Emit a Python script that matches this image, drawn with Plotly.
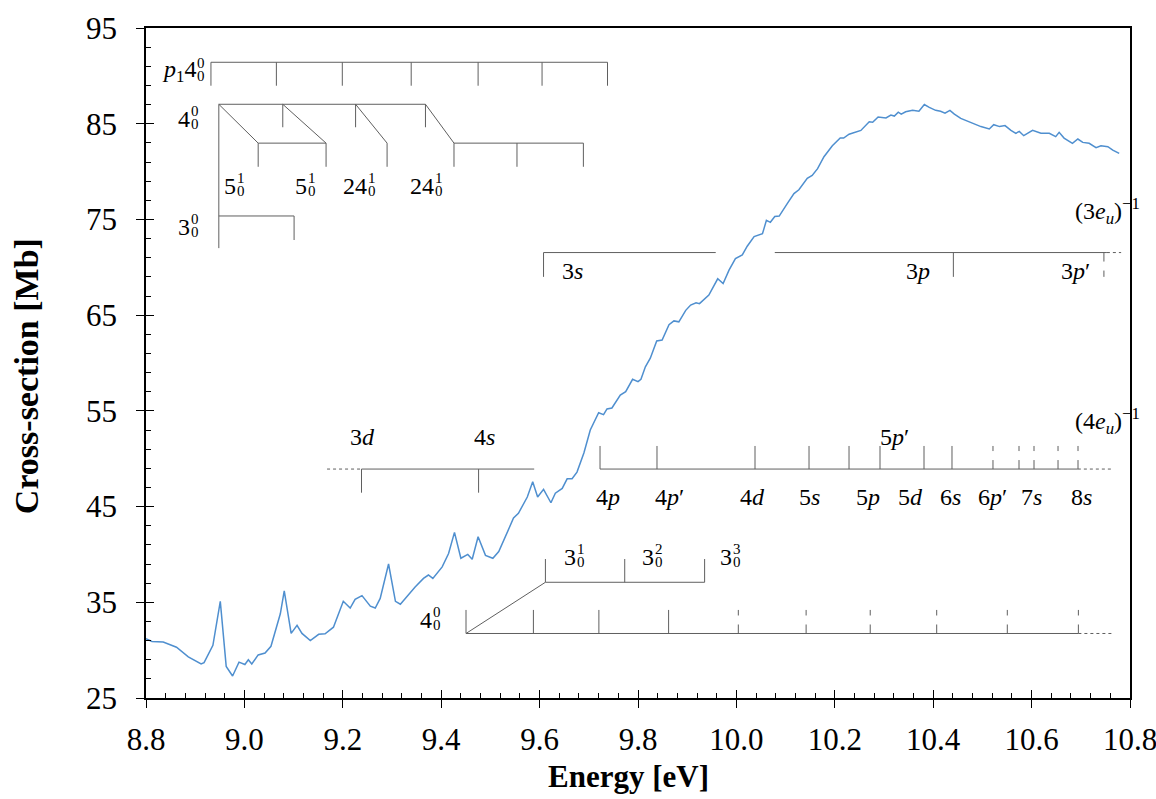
import plotly.graph_objects as go

# ---------------- data: measured cross-section ----------------
energy = [8.800, 8.812, 8.835, 8.862, 8.886, 8.912, 8.918, 8.936, 8.951, 8.963,
          8.976, 8.989, 9.001, 9.008, 9.015, 9.028, 9.042, 9.054, 9.073, 9.081,
          9.095, 9.107, 9.117, 9.134, 9.151, 9.164, 9.181, 9.201, 9.215, 9.225,
          9.239, 9.256, 9.266, 9.276, 9.293, 9.307, 9.317, 9.330, 9.347, 9.364,
          9.374, 9.383, 9.402, 9.415, 9.427, 9.440, 9.454, 9.463, 9.475, 9.490,
          9.505, 9.517, 9.530, 9.547, 9.557, 9.575, 9.586, 9.596, 9.608, 9.623,
          9.632, 9.646, 9.656, 9.666, 9.676, 9.690, 9.703, 9.720, 9.730, 9.737,
          9.747, 9.764, 9.775, 9.789, 9.800, 9.806, 9.815, 9.825, 9.838, 9.849,
          9.863, 9.873, 9.883, 9.897, 9.907, 9.918, 9.925, 9.944, 9.962, 9.973,
          9.985, 9.998, 10.012, 10.022, 10.036, 10.053, 10.061, 10.069, 10.078, 10.087,
          10.104, 10.117, 10.127, 10.144, 10.154, 10.165, 10.178, 10.195, 10.211, 10.218,
          10.229, 10.239, 10.253, 10.270, 10.277, 10.288, 10.304, 10.314, 10.321, 10.329,
          10.335, 10.344, 10.358, 10.371, 10.382, 10.392, 10.405, 10.415, 10.424, 10.434,
          10.443, 10.456, 10.476, 10.497, 10.514, 10.523, 10.535, 10.546, 10.558, 10.568,
          10.575, 10.584, 10.602, 10.619, 10.636, 10.649, 10.656, 10.666, 10.683, 10.694,
          10.704, 10.717, 10.731, 10.741, 10.755, 10.765, 10.778]
cross_section = [31.2, 30.9, 30.85, 30.3, 29.3, 28.55, 28.7, 30.5, 35.1, 28.3,
                 27.3, 28.75, 28.5, 29.0, 28.55, 29.5, 29.7, 30.4, 33.8, 36.2,
                 31.75, 32.6, 31.75, 31.0, 31.65, 31.7, 32.4, 35.1, 34.4, 35.3,
                 35.7, 34.6, 34.4, 35.4, 39.0, 35.1, 34.8, 35.6, 36.6, 37.5,
                 37.85, 37.5, 38.7, 40.1, 42.3, 39.6, 40.0, 39.5, 41.85, 39.9,
                 39.6, 40.3, 41.85, 43.8, 44.3, 46.0, 47.6, 46.0, 46.8, 45.4,
                 46.4, 46.9, 47.9, 47.9, 48.6, 50.6, 53.0, 54.8, 54.6, 55.2,
                 55.3, 56.65, 57.0, 58.3, 58.05, 58.3, 59.6, 60.5, 62.3, 62.4,
                 64.0, 64.4, 64.3, 65.5, 66.05, 66.3, 66.2, 67.1, 68.8, 68.3,
                 69.7, 70.9, 71.3, 72.2, 73.2, 73.5, 74.9, 74.7, 75.3, 75.35,
                 76.7, 77.7, 78.1, 79.3, 79.6, 80.3, 81.55, 82.7, 83.5, 83.5,
                 83.9, 84.1, 84.3, 85.2, 85.15, 85.7, 85.6, 85.9, 85.8, 86.2,
                 86.0, 86.25, 86.4, 86.3, 87.0, 86.7, 86.4, 86.3, 86.1, 86.4,
                 86.0, 85.55, 85.1, 84.7, 84.45, 84.9, 84.7, 84.8, 84.3, 84.0,
                 84.2, 83.75, 84.3, 84.0, 84.0, 83.65, 84.1, 83.5, 82.95, 83.4,
                 83.05, 82.95, 82.5, 82.7, 82.6, 82.25, 81.9]

x_ticks = [8.8, 9.0, 9.2, 9.4, 9.6, 9.8, 10.0, 10.2, 10.4, 10.6, 10.8]
x_tick_labels = ["8.8", "9.0", "9.2", "9.4", "9.6", "9.8", "10.0", "10.2", "10.4", "10.6", "10.8"]
y_ticks = [25, 35, 45, 55, 65, 75, 85, 95]
x_minor_step, y_minor_step = 0.04, 2

# ---------------- data: assignment ladders (eV / Mb) ----------------
p1_ticks = [8.932, 9.065, 9.199, 9.339, 9.475, 9.605, 9.738]
p1_level, p1_tick_end = 91.42, 88.97

v4_ticks = [8.948, 9.078, 9.226, 9.368]
v4_level, v4_tick_end, v4_stem_end = 87.03, 84.63, 72.0
v4_diag_ends = [9.028, 9.166, 9.290, 9.426]
combo_level, combo_tick_end = 82.97, 80.5
v5_ticks = [9.028, 9.166]
v24_single = [9.290]
v24_ticks = [9.426, 9.554, 9.689]
v3_level, v3_end, v3_tick_end = 75.36, 9.101, 72.85

ryd3_level, ryd3_tick_end = 71.54, 69.0
ryd3_left = [9.608, 9.958]
ryd3_right = [10.078, 10.753]
ryd3_dotted = [10.753, 10.782]
ryd3_solid_ticks = [9.608, 10.441]
ryd3_dashed_ticks = [10.747]

ryd4a_level, ryd4a_tick_end = 48.92, 46.45
ryd4a_dotted = [9.168, 9.238]
ryd4a_solid = [9.238, 9.589]
ryd4a_ticks = [9.238, 9.476]

ryd4b_level, ryd4b_tick_end = 48.92, 51.33
ryd4b_solid = [9.7228, 10.694]
ryd4b_dotted = [10.694, 10.765]
ryd4b_solid_ticks = [9.7228, 9.8386, 10.0378, 10.1476, 10.2289, 10.2919, 10.3813, 10.4382]
ryd4b_dashed_ticks = [10.5215, 10.5744, 10.6049, 10.6537, 10.6943]

low_level, low_tick_end = 31.74, 34.2
low_solid = [9.4504, 10.6951]
low_dotted = [10.6951, 10.765]
low_solid_ticks = [9.4504, 9.5874, 9.7205, 9.8622]
low_dashed_ticks = [10.0039, 10.1417, 10.2720, 10.4071, 10.5506, 10.6951]
low_diag_end = (9.6118, 37.09)
v3p_level, v3p_tick_end = 37.09, 39.52
v3p_ticks = [9.6118, 9.773, 9.9354]

# labels: (x, y, base, sup, sub)
script_labels = [
    (8.9037, 90.55, "<i>p</i><sub>1</sub>4", "0", "0"),
    (8.891, 85.5, "4", "0", "0"),
    (8.891, 74.2, "3", "0", "0"),
    (8.984, 78.5, "5", "1", "0"),
    (9.129, 78.5, "5", "1", "0"),
    (9.252, 78.5, "24", "1", "0"),
    (9.387, 78.5, "24", "1", "0"),
    (9.384, 33.2, "4", "0", "0"),
    (9.677, 39.7, "3", "1", "0"),
    (9.834, 39.7, "3", "2", "0"),
    (9.994, 39.7, "3", "3", "0"),
]
plain_labels = [
    (9.666, 69.65, "3<i>s</i>"),
    (10.369, 69.65, "3<i>p</i>"),
    (10.690, 69.65, "3<i>p</i>′"),
    (9.241, 52.27, "3<i>d</i>"),
    (9.487, 52.27, "4<i>s</i>"),
    (10.322, 52.27, "5<i>p</i>′"),
    (9.739, 46.0, "4<i>p</i>"),
    (9.865, 46.0, "4<i>p</i>′"),
    (10.032, 46.0, "4<i>d</i>"),
    (10.148, 46.0, "5<i>s</i>"),
    (10.268, 46.0, "5<i>p</i>"),
    (10.353, 46.0, "5<i>d</i>"),
    (10.436, 46.0, "6<i>s</i>"),
    (10.521, 46.0, "6<i>p</i>′"),
    (10.599, 46.0, "7<i>s</i>"),
    (10.702, 46.0, "8<i>s</i>"),
]
ion_labels = [
    (10.684, 75.9, "(3<i>e<sub>u</sub></i>)<sup>−1</sup>"),
    (10.684, 53.94, "(4<i>e<sub>u</sub></i>)<sup>−1</sup>"),
]

# ---------------- figure ----------------
LC = "#5f5f5f"
LABEL_FONT = dict(family="Liberation Serif", size=24, color="black")
SCRIPT_FONT = dict(family="Liberation Serif", size=15, color="black")

shapes = []


def seg(x0, y0, x1, y1, dash="solid"):
    shapes.append(dict(type="line", xref="x", yref="y", x0=x0, y0=y0, x1=x1, y1=y1,
                       line=dict(color=LC, width=1, dash=dash), layer="above"))


def hline(xs, y, dash="solid"):
    seg(xs[0], y, xs[1], y, dash)


def ticks(xs, y0, y1, dash="solid"):
    for t in xs:
        seg(t, y0, t, y1, dash)


# p1 4 progression
hline([p1_ticks[0], p1_ticks[-1]], p1_level)
ticks(p1_ticks, p1_level, p1_tick_end)
# 4 progression with combinations
hline([v4_ticks[0], v4_ticks[-1]], v4_level)
seg(v4_ticks[0], v4_level, v4_ticks[0], v4_stem_end)
ticks(v4_ticks[1:], v4_level, v4_tick_end)
for a, b in zip(v4_ticks, v4_diag_ends):
    seg(a, v4_level, b, combo_level)
hline(v5_ticks, combo_level)
ticks(v5_ticks, combo_level, combo_tick_end)
ticks(v24_single, combo_level, combo_tick_end)
hline([v24_ticks[0], v24_ticks[-1]], combo_level)
ticks(v24_ticks, combo_level, combo_tick_end)
hline([v4_ticks[0], v3_end], v3_level)
ticks([v3_end], v3_level, v3_tick_end)
# (3eu)^-1 Rydberg series
hline(ryd3_left, ryd3_level)
hline(ryd3_right, ryd3_level)
hline(ryd3_dotted, ryd3_level, "dot")
ticks(ryd3_solid_ticks, ryd3_level, ryd3_tick_end)
ticks(ryd3_dashed_ticks, ryd3_level, ryd3_tick_end, "dash")
# (4eu)^-1 Rydberg series
hline(ryd4a_dotted, ryd4a_level, "dot")
hline(ryd4a_solid, ryd4a_level)
ticks(ryd4a_ticks, ryd4a_level, ryd4a_tick_end)
hline(ryd4b_solid, ryd4b_level)
hline(ryd4b_dotted, ryd4b_level, "dot")
ticks(ryd4b_solid_ticks, ryd4b_level, ryd4b_tick_end)
ticks(ryd4b_dashed_ticks, ryd4b_level, ryd4b_tick_end, "dash")
# low-energy 4 progression and 3 combinations
hline(low_solid, low_level)
hline(low_dotted, low_level, "dot")
ticks(low_solid_ticks, low_level, low_tick_end)
ticks(low_dashed_ticks, low_level, low_tick_end, "dash")
seg(low_solid[0], low_level, low_diag_end[0], low_diag_end[1])
hline([v3p_ticks[0], v3p_ticks[-1]], v3p_level)
ticks(v3p_ticks, v3p_level, v3p_tick_end)

annotations = []
for x, y, base, sup, sub in script_labels:
    annotations.append(dict(x=x, y=y, xref="x", yref="y", text=base, showarrow=False,
                            xanchor="right", yanchor="middle", xshift=1, font=LABEL_FONT))
    annotations.append(dict(x=x, y=y, xref="x", yref="y", text=sup, showarrow=False,
                            xanchor="left", yanchor="middle", yshift=8, xshift=-2, font=SCRIPT_FONT))
    annotations.append(dict(x=x, y=y, xref="x", yref="y", text=sub, showarrow=False,
                            xanchor="left", yanchor="middle", yshift=-5, xshift=-2, font=SCRIPT_FONT))
for x, y, t in plain_labels:
    annotations.append(dict(x=x, y=y, xref="x", yref="y", text=t, showarrow=False,
                            xanchor="center", yanchor="middle", font=LABEL_FONT))
for x, y, t in ion_labels:
    annotations.append(dict(x=x, y=y, xref="x", yref="y", text=t, showarrow=False,
                            xanchor="left", yanchor="middle", font=LABEL_FONT))

# axis titles
annotations.append(dict(x=0.49, y=-0.088, xref="paper", yref="paper", yanchor="top",
                        text="<b>Energy [eV]</b>", showarrow=False,
                        font=dict(family="Liberation Serif", size=31, color="black")))
annotations.append(dict(x=-0.142, y=0.48, xref="paper", yref="paper", textangle=-90,
                        text="<b>Cross-section [Mb]</b>", showarrow=False,
                        font=dict(family="Liberation Serif", size=34, color="black")))

fig = go.Figure()
fig.add_trace(go.Scatter(x=energy, y=cross_section, mode="lines",
                         line=dict(color="#4f8fcf", width=1.5), showlegend=False,
                         hoverinfo="skip"))
# helper traces to bind the tick-overlay axes
fig.add_trace(go.Scatter(x=[None], y=[None], xaxis="x2", yaxis="y2", showlegend=False,
                         hoverinfo="skip"))
fig.add_trace(go.Scatter(x=[None], y=[None], xaxis="x3", yaxis="y3", showlegend=False,
                         hoverinfo="skip"))

TICK_FONT = dict(family="Liberation Serif", size=31, color="black")
overlay_common = dict(showticklabels=False, showgrid=False, zeroline=False, showline=False,
                      tickcolor="black", automargin=False)
fig.update_layout(
    width=1156, height=799,
    margin=dict(l=146, r=26, t=28, b=101, autoexpand=False),
    paper_bgcolor="white", plot_bgcolor="white",
    showlegend=False,
    shapes=shapes, annotations=annotations,
    xaxis=dict(range=[8.8, 10.8], tickmode="array", tickvals=x_ticks, ticktext=x_tick_labels,
               showgrid=False, zeroline=False, showline=True, linecolor="black",
               linewidth=1.5, mirror=True, ticks="outside", ticklen=8, tickwidth=1.2,
               tickcolor="black", tickfont=TICK_FONT, ticklabelstandoff=5,
               ticklabeloverflow="allow", automargin=False),
    yaxis=dict(range=[25, 95], tickmode="array", tickvals=y_ticks,
               showgrid=False, zeroline=False, showline=True, linecolor="black",
               linewidth=1.5, mirror=True, ticks="outside", ticklen=8, tickwidth=1.2,
               tickcolor="black", tickfont=TICK_FONT, ticklabelstandoff=13,
               ticklabeloverflow="allow", automargin=False),
    xaxis2=dict(range=[8.8, 10.8], tickmode="array", tickvals=x_ticks, overlaying="x",
                anchor="y2", side="bottom", ticks="inside", ticklen=8, tickwidth=1.2,
                **overlay_common),
    yaxis2=dict(range=[25, 95], tickmode="array", tickvals=y_ticks, overlaying="y",
                anchor="x2", side="left", ticks="inside", ticklen=8, tickwidth=1.2,
                **overlay_common),
    xaxis3=dict(range=[8.8, 10.8], tickmode="linear", tick0=8.8, dtick=x_minor_step,
                overlaying="x", anchor="y3", side="bottom", ticks="inside", ticklen=5,
                tickwidth=1, **overlay_common),
    yaxis3=dict(range=[25, 95], tickmode="linear", tick0=25, dtick=y_minor_step,
                overlaying="y", anchor="x3", side="left", ticks="inside", ticklen=5,
                tickwidth=1, **overlay_common),
)

fig.write_html("out.html")
